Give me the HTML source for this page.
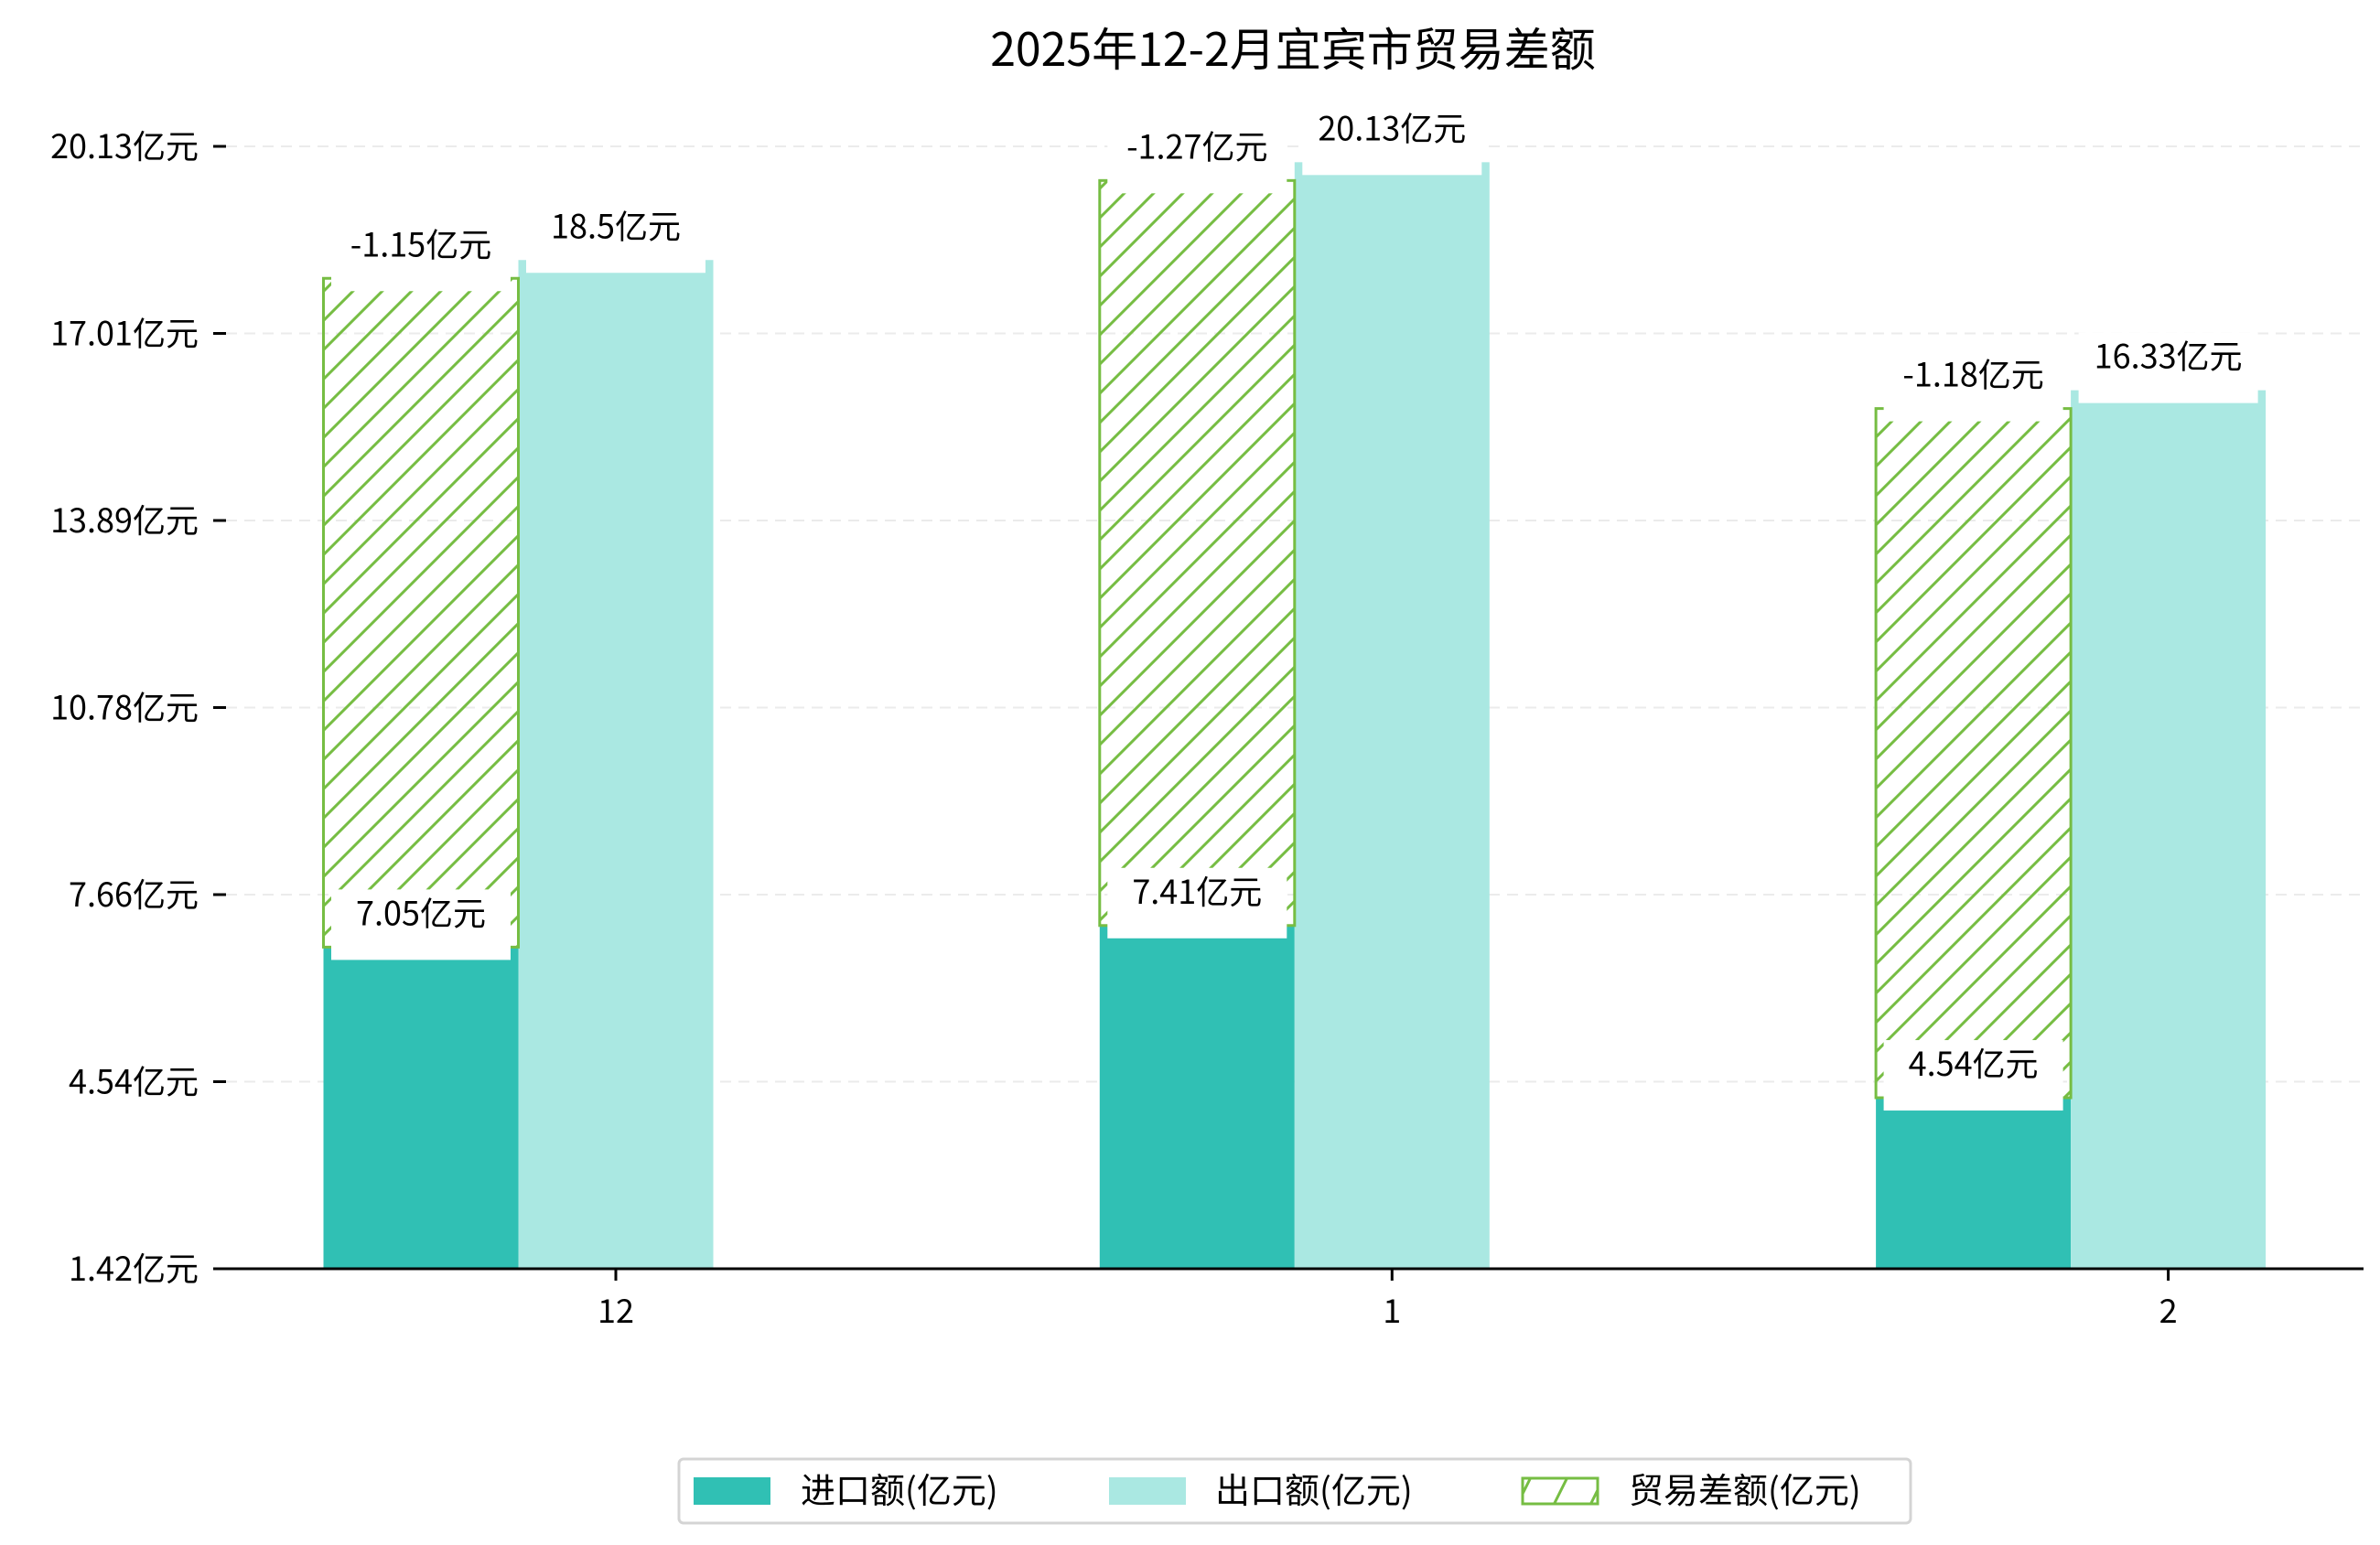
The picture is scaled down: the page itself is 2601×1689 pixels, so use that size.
<!DOCTYPE html>
<html><head><meta charset="utf-8">
<style>
html,body{margin:0;padding:0;background:#fff;}
svg{display:block;font-family:"WenQuanYi Zen Hei","Noto Sans CJK SC",sans-serif;}
</style></head>
<body>
<svg id="chart" width="2601" height="1689" viewBox="0 0 2601 1689" xmlns="http://www.w3.org/2000/svg">
<defs>
<pattern id="hatch" patternUnits="userSpaceOnUse" width="32" height="32">
<path d="M-8,8 L8,-8 M0,32 L32,0 M24,40 L40,24" stroke="#76bd43" stroke-width="3"/>
</pattern>
<pattern id="hatchLeg" patternUnits="userSpaceOnUse" width="40" height="40" x="1663" y="1615">
<path d="M-10,40 L10,0 M30,40 L50,0" stroke="#76bd43" stroke-width="3"/>
</pattern>
</defs>
<text x="1413" y="72" font-size="50" text-anchor="middle" fill="#000">2025年12-2月宜宾市贸易差额</text>
<g id="grid"></g>
<g id="bars"></g>
<g id="labels"></g>
<line x1="233" y1="1387" x2="2583" y2="1387" stroke="#000" stroke-width="3"/>
<g id="xaxis"></g>
<g>
<rect x="742" y="1595" width="1346" height="70" rx="5" fill="#fff" stroke="#d4d4d4" stroke-width="3"/>
<rect x="758" y="1615" width="84" height="30" fill="#30c0b4"/>
<text x="875" y="1643" font-size="38">进口额(亿元)</text>
<rect x="1212" y="1615" width="84" height="30" fill="#aae8e2"/>
<text x="1328" y="1643" font-size="38">出口额(亿元)</text>
<rect x="1664" y="1616" width="82" height="28" fill="url(#hatchLeg)" stroke="#76bd43" stroke-width="3"/>
<text x="1780" y="1643" font-size="38">贸易差额(亿元)</text>
</g>
</svg>
<script>
const categories = ["12", "1", "2"];
const importValues = [7.05, 7.41, 4.54];
const exportValues = [18.5, 20.13, 16.33];
const balanceValues = [-1.15, -1.27, -1.18];
const yTickLabels = ["1.42亿元", "4.54亿元", "7.66亿元", "10.78亿元", "13.89亿元", "17.01亿元", "20.13亿元"];

const NS = "http://www.w3.org/2000/svg";
const baseY = 1387, pxPerUnit = 65.6, baseVal = 1.69;
function yScale(v){ return baseY - (v - baseVal) * pxPerUnit; }
const groupStart = 673, groupStep = 848.3, barW = 213;
function xCenter(i){ return groupStart + i * groupStep; }
function tickY(i){ return baseY - i * (baseY - 160) / (yTickLabels.length - 1); }
function mk(tag, attrs, parent){
  const el = document.createElementNS(NS, tag);
  for (const k in attrs) el.setAttribute(k, attrs[k]);
  parent.appendChild(el);
  return el;
}
const grid = document.getElementById('grid');
const bars = document.getElementById('bars');
const labels = document.getElementById('labels');
const xaxis = document.getElementById('xaxis');

yTickLabels.forEach((lab, i) => {
  const y = tickY(i);
  if (i > 0) {
    const g = mk('line', {x1: 247, x2: 2583, y1: y, y2: y, stroke: '#ebebeb', 'stroke-width': 2, 'stroke-dasharray': '12,8'}, grid);
    
    
  }
  const t = mk('line', {x1: 233, x2: 247, y1: y, y2: y, stroke: '#000', 'stroke-width': 3}, grid);
  
  
  const tx = mk('text', {x: 217, y: y + 13, 'font-size': 36, 'text-anchor': 'end', fill: '#000'}, grid);
  tx.textContent = lab;
  
  
});

function addLabel(cx, barTop, text, boxW){
  const cy = barTop - 37;
  const r = mk('rect', {x: cx - boxW/2, y: cy - 26, width: boxW, height: barTop + 14 - (cy - 26), fill: '#fff'}, labels);
  
  
  const t = mk('text', {x: cx, y: cy + 13, 'font-size': 36, 'text-anchor': 'middle', fill: '#000'}, labels);
  t.textContent = text;
  
  
}

categories.forEach((c, i) => {
  const cx = xCenter(i);
  const ix = cx - 1.5 * barW, ex = cx - 0.5 * barW;
  const iTop = yScale(importValues[i]);
  const eTop = yScale(exportValues[i]);
  const hTop = eTop + 20;
  const ib = mk('rect', {x: ix, y: iTop, width: barW, height: baseY - iTop, fill: '#30c0b4'}, bars);
  
  
  const eb = mk('rect', {x: ex, y: eTop, width: barW, height: baseY - eTop, fill: '#aae8e2'}, bars);
  
  
  const hb = mk('rect', {x: ix, y: hTop, width: barW, height: iTop - hTop, fill: 'url(#hatch)', stroke: '#76bd43', 'stroke-width': 3}, bars);
  
  
  addLabel(ix + barW/2, hTop, balanceValues[i] + '亿元', 196);
  addLabel(ex + barW/2, eTop, exportValues[i] + '亿元', 196);
  addLabel(ix + barW/2, iTop, importValues[i] + '亿元', 196);
  const tk = mk('line', {x1: cx, x2: cx, y1: baseY, y2: baseY + 13, stroke: '#000', 'stroke-width': 3}, xaxis);
  
  
  const tl = mk('text', {x: cx, y: 1446, 'font-size': 36, 'text-anchor': 'middle', fill: '#000'}, xaxis);
  tl.textContent = c;
  
  
});
</script>
</body></html>
